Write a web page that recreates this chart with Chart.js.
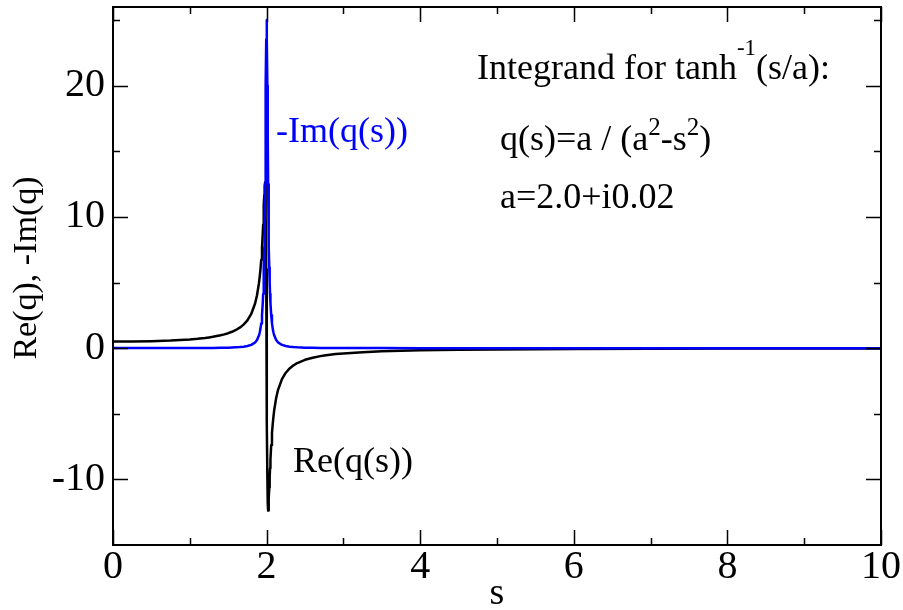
<!DOCTYPE html>
<html>
<head>
<meta charset="utf-8">
<title>Integrand for tanh^-1(s/a)</title>
<script src="https://cdn.jsdelivr.net/npm/chart.js@4.4.1/dist/chart.umd.min.js"></script>
<style>
    body { margin: 0; background: #fff; }
    canvas { display: block; }
</style>
</head>
<body>
<canvas id="myChart" width="903" height="610"></canvas>
<script>
// values (q(s) = a / (a^2 - s^2), a = 2.0 + i0.02)
const sValues = [0, 0.25, 0.5, 0.75, 1, 1.1, 1.2, 1.25, 1.3, 1.4,
    1.45, 1.5, 1.55, 1.6, 1.65, 1.7, 1.75, 1.8, 1.85, 1.875,
    1.9, 1.91, 1.92, 1.93, 1.94, 1.95, 1.955, 1.96, 1.965, 1.97,
    1.975, 1.98, 1.985, 1.99, 1.995, 2, 2.005, 2.01, 2.015, 2.02,
    2.025, 2.03, 2.035, 2.04, 2.045, 2.05, 2.06, 2.07, 2.08, 2.09,
    2.1, 2.125, 2.15, 2.2, 2.25, 2.3, 2.35, 2.4, 2.5, 2.6,
    2.7, 2.75, 2.9, 3, 3.25, 3.5, 4, 4.5, 5, 6,
    7, 8, 9, 10];
const reValues = [0.5, 0.508, 0.533, 0.582, 0.667, 0.717, 0.781, 0.82, 0.865, 0.98,
    1.053, 1.141, 1.25, 1.386, 1.561, 1.794, 2.121, 2.607, 3.405, 4.029,
    4.936, 5.422, 6.01, 6.731, 7.627, 8.747, 9.405, 10.126, 10.895, 11.664,
    12.321, 12.625, 12.125, 10.126, 6.008, 0.125, -5.758, -9.876, -11.875, -12.376,
    -12.071, -11.414, -10.645, -9.876, -9.155, -8.497, -7.377, -6.481, -5.76, -5.172,
    -4.686, -3.779, -3.155, -2.356, -1.87, -1.543, -1.309, -1.133, -0.887, -0.724,
    -0.607, -0.561, -0.453, -0.4, -0.305, -0.242, -0.167, -0.123, -0.095, -0.0625,
    -0.044, -0.033, -0.026, -0.021];
const negImValues = [0.005, 0.005, 0.006, 0.008, 0.011, 0.013, 0.017, 0.019, 0.021, 0.029,
    0.034, 0.041, 0.05, 0.063, 0.082, 0.111, 0.16, 0.248, 0.437, 0.625,
    0.962, 1.177, 1.471, 1.887, 2.501, 3.449, 4.124, 5.001, 6.154, 7.693,
    9.757, 12.5, 16.0, 20.0, 23.53, 25.0, 23.53, 20.0, 16.0, 12.5,
    9.757, 7.693, 6.154, 5.001, 4.124, 3.449, 2.501, 1.887, 1.471, 1.177,
    0.962, 0.625, 0.437, 0.248, 0.16, 0.111, 0.082, 0.063, 0.04, 0.028,
    0.021, 0.018, 0.013, 0.01, 0.007, 0.005, 0.003, 0.002, 0.001, 0.001,
    0.001, 0, 0, 0];

const xTicks = [0, 2, 4, 6, 8, 10];
const xMinorTicks = [1, 3, 5, 7, 9];
const yTicks = [-10, 0, 10, 20];
const yMinorTicks = [-5, 5, 15, 25];

const serif = "'Liberation Serif', 'Times New Roman', serif";

function toPoints(xs, ys) {
    return xs.map((s, i) => ({ x: s, y: ys[i] }));
}

// box round the plot, with inward ticks on all four sides
const framePlugin = {
    id: "frame",
    afterDatasetsDraw(chart) {
        const { ctx, chartArea: a } = chart;
        const x = chart.scales.x;
        const y = chart.scales.y;
        ctx.save();
        ctx.strokeStyle = "#000";
        ctx.lineWidth = 1.5;
        ctx.beginPath();
        const xt = (list, len) => list.forEach((v) => {
            const px = Math.round(x.getPixelForValue(v)) + 0.5;
            ctx.moveTo(px, a.bottom); ctx.lineTo(px, a.bottom - len);
            ctx.moveTo(px, a.top); ctx.lineTo(px, a.top + len);
        });
        const yt = (list, len) => list.forEach((v) => {
            const py = Math.round(y.getPixelForValue(v)) + 0.5;
            ctx.moveTo(a.left, py); ctx.lineTo(a.left + len, py);
            ctx.moveTo(a.right, py); ctx.lineTo(a.right - len, py);
        });
        xt(xTicks, 15);
        xt(xMinorTicks, 7);
        yt(yTicks, 15);
        yt(yMinorTicks, 7);
        ctx.stroke();
        ctx.lineWidth = 2;
        ctx.strokeRect(a.left, a.top, a.right - a.left, a.bottom - a.top);
        ctx.restore();
    }
};

// text with superscripts, drawn piece by piece
function drawParts(ctx, x, y, parts) {
    parts.forEach((p) => {
        ctx.font = (p.size || 36) + "px " + serif;
        ctx.fillText(p.t, x, y - (p.rise || 0));
        x += ctx.measureText(p.t).width;
    });
}

const notesPlugin = {
    id: "notes",
    afterDraw(chart) {
        const ctx = chart.ctx;
        ctx.save();
        ctx.textBaseline = "alphabetic";
        ctx.textAlign = "left";
        ctx.fillStyle = "#000";
        drawParts(ctx, 477, 79, [
            { t: "Integrand for tanh" },
            { t: "-1", size: 23, rise: 24 },
            { t: "(s/a):" }
        ]);
        drawParts(ctx, 500, 150, [
            { t: "q(s)=a / (a" },
            { t: "2", size: 25, rise: 15 },
            { t: "-s" },
            { t: "2", size: 25, rise: 15 },
            { t: ")" }
        ]);
        drawParts(ctx, 500, 208, [{ t: "a=2.0+i0.02" }]);
        drawParts(ctx, 293, 472, [{ t: "Re(q(s))" }]);
        ctx.fillStyle = "#0000ff";
        drawParts(ctx, 276, 142, [{ t: "-Im(q(s))" }]);

        // y axis title
        ctx.fillStyle = "#000";
        ctx.translate(36, 268);
        ctx.rotate(-Math.PI / 2);
        ctx.textAlign = "center";
        ctx.font = "34px " + serif;
        ctx.fillText("Re(q), -Im(q)", 0, 0);
        ctx.restore();
    }
};

const data = {
    datasets: [{
            label: "-Im(q(s))",
            data: toPoints(sValues, negImValues),
            borderColor: "#0000ff",
            borderWidth: 2.5,
            pointRadius: 0,
            borderJoinStyle: "round",
            tension: 0,
        },
        {
            label: "Re(q(s))",
            data: toPoints(sValues, reValues),
            borderColor: "#000000",
            borderWidth: 2.5,
            pointRadius: 0,
            borderJoinStyle: "round",
            tension: 0,
        },
    ],
};

const config = {
    type: "line",
    data,
    options: {
        responsive: false,
        animation: false,
        layout: {
            padding: { left: 0, right: 22, top: 7, bottom: 0 },
        },
        plugins: {
            legend: { display: false },
            tooltip: { enabled: false },
        },
        scales: {
            x: {
                type: "linear",
                min: 0,
                max: 10,
                afterBuildTicks: (sc) => {
                    sc.ticks = xTicks.map((v) => ({ value: v }));
                },
                afterFit: (sc) => {
                    sc.height = 65;
                    sc.paddingLeft = 0;
                    sc.paddingRight = 0;
                },
                grid: { display: false, drawTicks: false },
                border: { display: false },
                ticks: {
                    color: "#000",
                    padding: -2,
                    maxRotation: 0,
                    autoSkip: false,
                    font: { family: serif, size: 40 },
                },
                title: {
                    display: true,
                    text: "s",
                    color: "#000",
                    font: { family: serif, size: 38 },
                    padding: { top: 0, bottom: -7 },
                },
            },
            y: {
                type: "linear",
                min: -15,
                max: 26,
                afterBuildTicks: (sc) => {
                    sc.ticks = yTicks.map((v) => ({ value: v }));
                },
                afterFit: (sc) => {
                    sc.width = 113;
                    sc.paddingTop = 0;
                    sc.paddingBottom = 0;
                },
                grid: { display: false, drawTicks: false },
                border: { display: false },
                ticks: {
                    color: "#000",
                    padding: 8,
                    font: { family: serif, size: 40 },
                },
            },
        },
    },
    plugins: [framePlugin, notesPlugin],
};

const myChart = new Chart(document.getElementById("myChart"), config);
</script>
</body>
</html>
